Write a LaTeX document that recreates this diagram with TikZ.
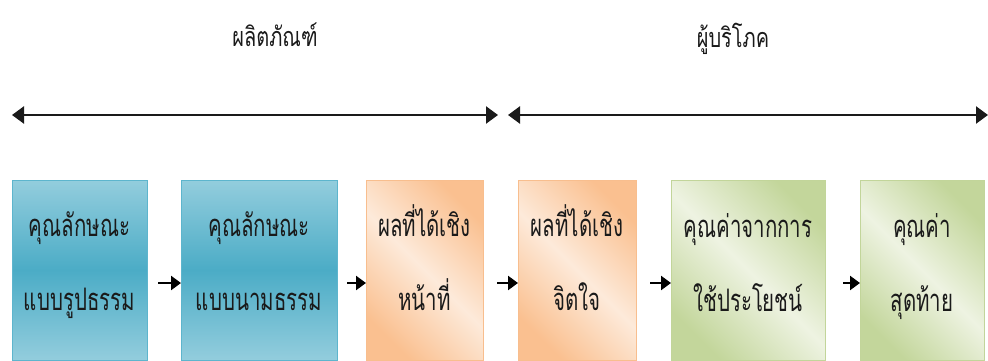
\documentclass[tikz,border=0pt]{standalone}
\usepackage{fontspec}
\newfontfamily\thaifont[Script=Thai,FakeStretch=0.66]{Loma}
\newfontfamily\thaihead[Script=Thai,FakeStretch=0.74]{Loma}
\usetikzlibrary{arrows.meta}

\definecolor{blueMid}{HTML}{4BACC6}
\definecolor{blueLight}{HTML}{93CDDD}
\definecolor{blueEdge}{HTML}{5DB5CD}
\definecolor{orangeDark}{HTML}{FAC090}
\definecolor{orangeLight}{HTML}{FDEADA}
\definecolor{orangeEdge}{HTML}{F8BE8E}
\definecolor{greenDark}{HTML}{C3D69B}
\definecolor{greenLight}{HTML}{EEF3E2}
\definecolor{greenEdge}{HTML}{C2D59A}
\definecolor{inkColor}{HTML}{1A1A1A}

\tikzset{
  box/.style={rectangle, anchor=north west, minimum height=180pt,
    inner sep=0pt, outer sep=0pt, line width=1pt},
  bluebox/.style={box, draw=blueEdge, top color=blueLight,
    bottom color=blueLight, middle color=blueMid},
  orangebox/.style={box, draw=orangeEdge, top color=orangeDark,
    bottom color=orangeDark, middle color=orangeLight, shading angle=-45},
  greenbox/.style={box, draw=greenEdge, top color=greenDark,
    bottom color=greenDark, middle color=greenLight, shading angle=-45},
  boxtext/.style={anchor=base, inner sep=0pt, text=inkColor,
    font=\thaifont\fontsize{31}{34}\selectfont},
  heading/.style={anchor=base, inner sep=0pt, text=inkColor,
    font=\thaihead\fontsize{27}{30}\selectfont},
  span/.style={draw=inkColor, line width=2.4pt,
    {Triangle[length=12pt,width=17pt]}-{Triangle[length=12pt,width=17pt]}},
  flow/.style={draw=black, line width=2.4pt,
    -{Triangle[length=10pt,width=14pt]}}
}

\begin{document}
\begin{tikzpicture}[x=1pt,y=-1pt]
\useasboundingbox (0,0) rectangle (988,361);

% headings
\node[heading] (tProduct) at (275,47) {ผลิตภัณฑ์};
\node[heading] (tConsumer) at (733,48) {ผู้บริโภค};

% range arrows
\coordinate (pL) at (12,115);
\coordinate (pM1) at (498,115);
\coordinate (pM2) at (508,115);
\coordinate (pR) at (988,115);
\draw[span] (pL) -- (pM1);
\draw[span] (pM2) -- (pR);

% chain of boxes
\node[bluebox, minimum width=135pt] (b1) at (12,180) {};
\node[bluebox, minimum width=156pt] (b2) at (181,180) {};
\node[orangebox, minimum width=117pt] (b3) at (366,180) {};
\node[orangebox, minimum width=118pt] (b4) at (518,180) {};
\node[greenbox, minimum width=154pt] (b5) at (671,180) {};
\node[greenbox, minimum width=124pt] (b6) at (860,180) {};

% box labels
\node[boxtext] (b1a) at ([yshift=-56pt]b1.north) {คุณลักษณะ};
\node[boxtext] (b1b) at ([yshift=-130pt]b1.north) {แบบรูปธรรม};
\node[boxtext] (b2a) at ([yshift=-56pt]b2.north) {คุณลักษณะ};
\node[boxtext] (b2b) at ([yshift=-130pt]b2.north) {แบบนามธรรม};
\node[boxtext] (b3a) at ([yshift=-56pt]b3.north) {ผลที่ได้เชิง};
\node[boxtext] (b3b) at ([yshift=-130pt]b3.north) {หน้าที่};
\node[boxtext] (b4a) at ([yshift=-56pt]b4.north) {ผลที่ได้เชิง};
\node[boxtext] (b4b) at ([yshift=-130pt]b4.north) {จิตใจ};
\node[boxtext] (b5a) at ([yshift=-57pt]b5.north) {คุณค่าจากการ};
\node[boxtext] (b5b) at ([yshift=-131pt]b5.north) {ใช้ประโยชน์};
\node[boxtext] (b6a) at ([yshift=-57pt]b6.north) {คุณค่า};
\node[boxtext] (b6b) at ([yshift=-131pt]b6.north) {สุดท้าย};

% arrows between boxes
\draw[flow, shorten <=11pt] ([yshift=-13pt]b1.east) -- ([yshift=-13pt]b2.west);
\draw[flow, shorten <=10pt] ([yshift=-13pt]b2.east) -- ([yshift=-13pt]b3.west);
\draw[flow, shorten <=14pt] ([yshift=-13pt]b3.east) -- ([yshift=-13pt]b4.west);
\draw[flow, shorten <=14pt] ([yshift=-13pt]b4.east) -- ([yshift=-13pt]b5.west);
\draw[flow, shorten <=18pt] ([yshift=-13pt]b5.east) -- ([yshift=-13pt]b6.west);
\end{tikzpicture}
\end{document}
